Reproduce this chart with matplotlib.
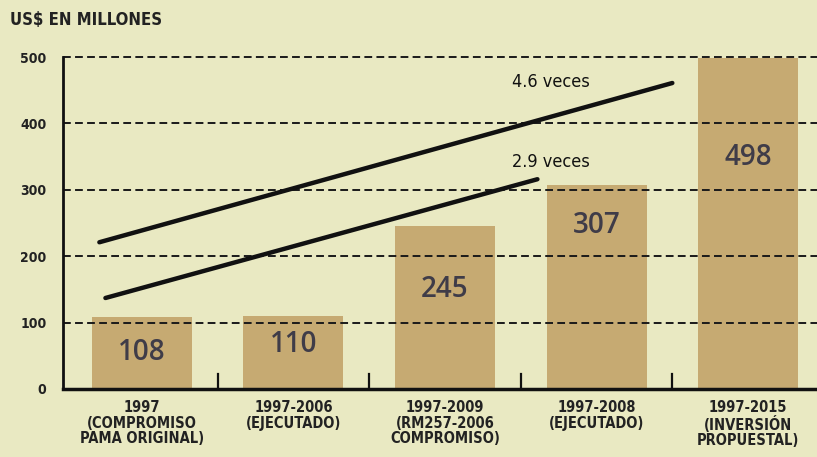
import matplotlib
matplotlib.use("Agg")
import matplotlib.pyplot as plt
import numpy as np

plt.rcParams['font.family'] = ['DejaVu Sans']

categories = ['1997\n(COMPROMISO\nPAMA ORIGINAL)', '1997-2006\n(EJECUTADO)',
              '1997-2009\n(RM257-2006\nCOMPROMISO)', '1997-2008\n(EJECUTADO)',
              '1997-2015\n(INVERSIÓN\nPROPUESTAL)']
values = [108, 110, 245, 307, 498]
yticks = [0, 100, 200, 300, 400, 500]

# trend arrows: start and end points in data units
line_46 = [(-0.28, 221), (3.50, 461)]
line_29 = [(-0.24, 137), (2.61, 316)]

bg = '#e9e9c2'
bar_col = '#c6aa72'
label_frac = [0.51, 0.61, 0.61, 0.80, 0.70]
cond_font = dict(family='DejaVu Sans', fontstretch='condensed')

fig = plt.figure(figsize=(8.17, 4.57), dpi=100, facecolor=bg)
ax = fig.add_axes([0.0771, 0.149, 0.923, 0.726], facecolor=bg)

x = np.arange(len(values))
ax.bar(x, values, width=0.66, color=bar_col, zorder=1)

for xi, v, f in zip(x, values, label_frac):
    ax.text(xi, v * f, str(v), ha='center', va='center', fontsize=20,
            color='#3f3c48', zorder=4, fontweight='semibold',
            family=['Open Sans', 'DejaVu Sans'])

for yt in yticks[1:]:
    ax.axhline(yt, color='#1a1a1a', lw=1.4, ls=(0, (4, 2.2)), zorder=2, clip_on=False)

for ln in (line_46, line_29):
    ax.plot([ln[0][0], ln[1][0]], [ln[0][1], ln[1][1]], color='#111111',
            lw=3.2, solid_capstyle='round', zorder=5)

ax.text(2.70, 462, '4.6 veces', ha='center', va='center', fontsize=13,
        color='#111111', zorder=6, **cond_font)
ax.text(2.70, 342, '2.9 veces', ha='center', va='center', fontsize=13,
        color='#111111', zorder=6, **cond_font)

ax.set_xlim(-0.52, 4.455)
ax.set_ylim(0, 500)
ax.set_yticks(yticks)
ax.set_yticklabels([str(t) for t in yticks], fontsize=10, fontweight='bold',
                   color='#222222', **cond_font)
ax.tick_params(axis='y', length=0, pad=12)

ax.set_xticks(x)
ax.set_xticklabels(categories, fontsize=10.5, fontweight='bold', color='#222222',
                   linespacing=1.05, **cond_font)
ax.tick_params(axis='x', length=0, pad=8)
for xb in x[:-1] + 0.5:
    ax.plot([xb, xb], [0, 22], color='#111111', lw=1.6, zorder=5, clip_on=False)

for s in ['top', 'right']:
    ax.spines[s].set_visible(False)
ax.spines['left'].set_linewidth(2)
ax.spines['bottom'].set_linewidth(2.5)
ax.spines['left'].set_color('#111111')
ax.spines['bottom'].set_color('#111111')

fig.text(0.012, 0.957, 'US$ EN MILLONES', fontsize=12, fontweight='bold',
         color='#222222', ha='left', va='center', **cond_font)

fig.savefig('out.png', dpi=100, facecolor=bg)
